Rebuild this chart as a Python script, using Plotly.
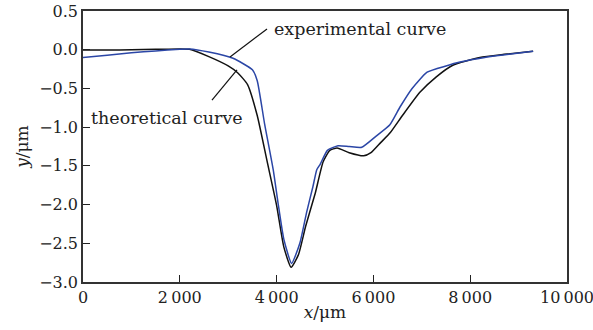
import plotly.graph_objects as go

theo_x = [0, 500, 1000, 1500, 2000, 2200, 2600, 3000, 3200, 3400, 3600, 3800, 4000, 4150, 4300,
          4450, 4600, 4800, 4960, 5100, 5250, 5500, 5800, 5950, 6150, 6350, 6600, 6960, 7300,
          7640, 8200, 8700, 9300]
theo_y = [-0.005, -0.005, 0.0, 0.005, 0.01, 0.005, -0.09, -0.21, -0.30, -0.45, -0.85, -1.43, -2.01,
          -2.55, -2.81, -2.65, -2.28, -1.85, -1.45, -1.30, -1.27, -1.33, -1.37, -1.33, -1.20,
          -1.07, -0.85, -0.55, -0.35, -0.20, -0.10, -0.06, -0.02]

exp_x = [0, 500, 1000, 1500, 2000, 2200, 2600, 3100, 3500, 3600, 3750, 3930, 4030, 4150, 4310,
         4480, 4620, 4750, 4830, 4900, 5050, 5270, 5500, 5760, 6050, 6340, 6550, 6800, 7110,
         7500, 7790, 8300, 8800, 9300]
exp_y = [-0.10, -0.07, -0.04, -0.015, 0.005, 0.01, -0.03, -0.11, -0.26, -0.40, -0.95, -1.55, -1.98,
         -2.45, -2.76, -2.50, -2.10, -1.77, -1.55, -1.48, -1.30, -1.24, -1.25, -1.26, -1.12,
         -0.97, -0.74, -0.50, -0.29, -0.21, -0.16, -0.10, -0.06, -0.02]

x_ticks = [0, 2000, 4000, 6000, 8000, 10000]
x_labels = ["0", "2\u2009000", "4\u2009000", "6\u2009000", "8\u2009000", "10\u2009000"]
y_ticks = [0.5, 0.0, -0.5, -1.0, -1.5, -2.0, -2.5, -3.0]
y_labels = ["0.5", "0.0", "\u22120.5", "\u22121.0", "\u22121.5", "\u22122.0", "\u22122.5", "\u22123.0"]

FONT = "DejaVu Serif"
fig = go.Figure()
fig.add_trace(go.Scatter(x=theo_x, y=theo_y, mode="lines", line=dict(color="#111111", width=1.5, shape="spline", smoothing=0.5), showlegend=False))
fig.add_trace(go.Scatter(x=exp_x, y=exp_y, mode="lines", line=dict(color="#2b46a6", width=1.5, shape="spline", smoothing=0.5), showlegend=False))

fig.add_shape(type="line", x0=3802, y0=0.267, x1=3037, y1=-0.094, line=dict(color="#111111", width=1.2))
fig.add_shape(type="line", x0=2665, y0=-0.65, x1=3182, y1=-0.26, line=dict(color="#111111", width=1.2))
fig.add_annotation(x=3905, y=0.27, text="experimental curve", showarrow=False, xanchor="left", yanchor="middle",
                   font=dict(family=FONT, size=17.5, color="#222"))
fig.add_annotation(x=124, y=-0.88, text="theoretical curve", showarrow=False, xanchor="left", yanchor="middle",
                   font=dict(family=FONT, size=17.5, color="#222"))

axis_common = dict(showgrid=False, zeroline=False, showline=True, linecolor="#333", linewidth=1.5,
                   mirror=True, ticks="inside", ticklen=7, tickwidth=1.2, tickcolor="#222",
                   tickfont=dict(family=FONT, size=16, color="#222"), ticklabeloverflow="allow",
                   automargin=False)
fig.update_xaxes(range=[0, 10000], tickvals=x_ticks, ticktext=x_labels,
                 title=dict(text="<i>x</i>/μm", font=dict(family=FONT, size=17, color="#222"), standoff=0),
                 **axis_common)
fig.update_yaxes(range=[-3.0, 0.5], tickvals=y_ticks, ticktext=y_labels,
                 title=dict(text="<i>y</i>/μm", font=dict(family=FONT, size=17, color="#222"), standoff=6),
                 **axis_common)
fig.update_layout(width=593, height=330, margin=dict(l=83, r=26, t=11, b=48),
                  plot_bgcolor="white", paper_bgcolor="white")
fig.write_html("out.html")
